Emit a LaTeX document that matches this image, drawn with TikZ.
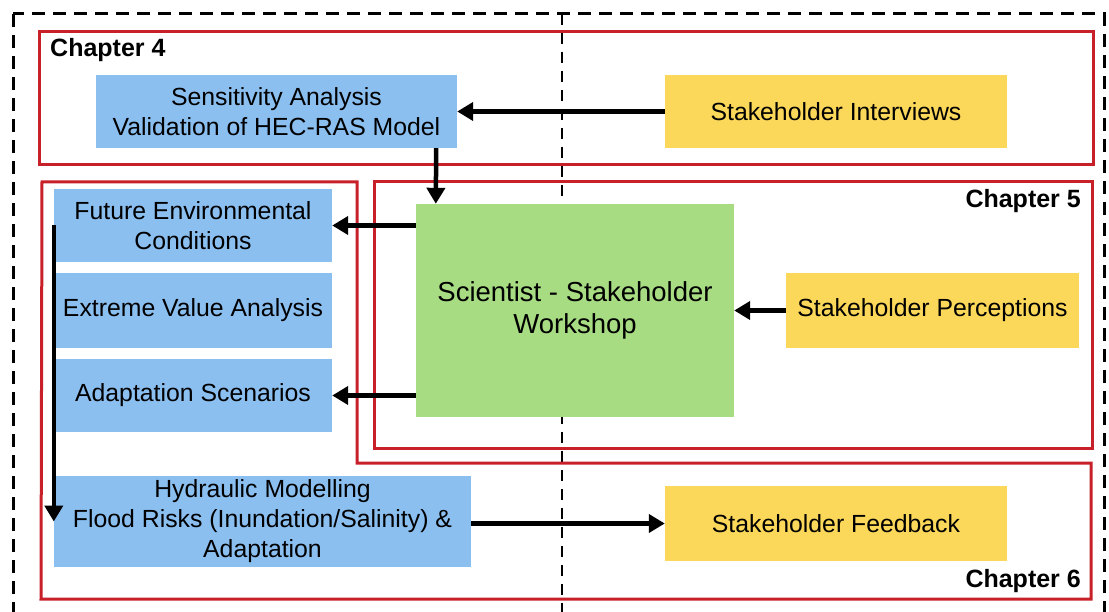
\documentclass[tikz,border=0pt]{standalone}
\usepackage{fontspec}
\setmainfont{Liberation Sans}
\usetikzlibrary{arrows.meta}
\definecolor{boxblue}{RGB}{139,191,240}
\definecolor{boxgreen}{RGB}{167,220,131}
\definecolor{boxyellow}{RGB}{251,215,90}
\definecolor{chapred}{RGB}{200,32,40}
\begin{document}
\begin{tikzpicture}[x=1pt,y=-1pt,
  boxbase/.style={inner sep=0pt, align=center, font=\fontsize{24.8}{30}\selectfont},
  bluebox/.style={boxbase, fill=boxblue},
  greenbox/.style={boxbase, fill=boxgreen},
  yellowbox/.style={boxbase, fill=boxyellow},
  chapframe/.style={draw=chapred, line width=3pt},
  chaplabel/.style={font=\fontsize{25}{28}\selectfont\bfseries, inner sep=0pt},
  arr/.style={line width=4.5pt, -{Triangle[length=16pt,width=18pt]}},
  sepline/.style={line width=2.5pt, dash pattern=on 11pt off 8pt},
  outerframe/.style={line width=3pt, dash pattern=on 13pt off 8pt}]
\useasboundingbox (0,0) rectangle (1109,612);
\fill[white] (0,0) rectangle (1109,612);
\begin{scope}
\clip (0,0) rectangle (1109,612);
% outer dashed frame and the central divider
\draw[outerframe] (13,14) rectangle (1104,640);
\draw[sepline] (562,14) -- (562,612);
\end{scope}

% chapter frames
\draw[chapframe] (39,32) rectangle (1093,165);
\draw[chapframe] (374,182) rectangle (1092,448);
\draw[chapframe] (42,182) -- (357,182) -- (357,463) -- (1091,463)
  -- (1091,599) -- (41,599) -- cycle;

\node[chaplabel, anchor=west] (c4) at (50,50) {Chapter 4};
\node[chaplabel, anchor=east] (c5) at (1081,201) {Chapter 5};
\node[chaplabel, anchor=east] (c6) at (1081,581) {Chapter 6};

% boxes
\node[bluebox, minimum width=361pt, minimum height=73pt] (sens) at (276.5,111.5)
  {Sensitivity Analysis\\Validation of HEC-RAS Model};
\node[yellowbox, minimum width=342pt, minimum height=73pt] (intv) at (836,111.5)
  {Stakeholder Interviews};
\node[bluebox, minimum width=278pt, minimum height=73pt] (fut) at (193,225.5)
  {Future Environmental\\Conditions};
\node[bluebox, minimum width=278pt, minimum height=75pt] (ext) at (193,310.5)
  {Extreme Value Analysis};
\node[bluebox, minimum width=278pt, minimum height=73pt] (adp) at (193,395.5)
  {Adaptation Scenarios};
\node[bluebox, minimum width=417pt, minimum height=91pt] (hyd) at (262.5,521.5)
  {Hydraulic Modelling\\Flood Risks (Inundation/Salinity) \&\\Adaptation};
\node[greenbox, minimum width=318pt, minimum height=213pt,
  font=\fontsize{27.5}{32}\selectfont] (ws) at (575,310.5)
  {Scientist - Stakeholder\\Workshop};
\node[yellowbox, minimum width=293pt, minimum height=75pt] (perc) at (932.5,310.5)
  {Stakeholder Perceptions};
\node[yellowbox, minimum width=342pt, minimum height=75pt] (fb) at (836,523.5)
  {Stakeholder Feedback};

% connectors
\draw[arr] (intv.west) -- (sens.east);
\draw[arr] ([xshift=-21pt]sens.south east) -- ([xshift=20pt]ws.north west);
\draw[arr] (ws.west |- fut.east) -- (fut.east);
\draw[arr] (ws.west |- adp.east) -- (adp.east);
\draw[arr] (perc.west) -- (ws.east);
\draw[arr] (fut.west) -- (hyd.west);
\draw[arr] (hyd.east |- fb.west) -- (fb.west);
\end{tikzpicture}
\end{document}
